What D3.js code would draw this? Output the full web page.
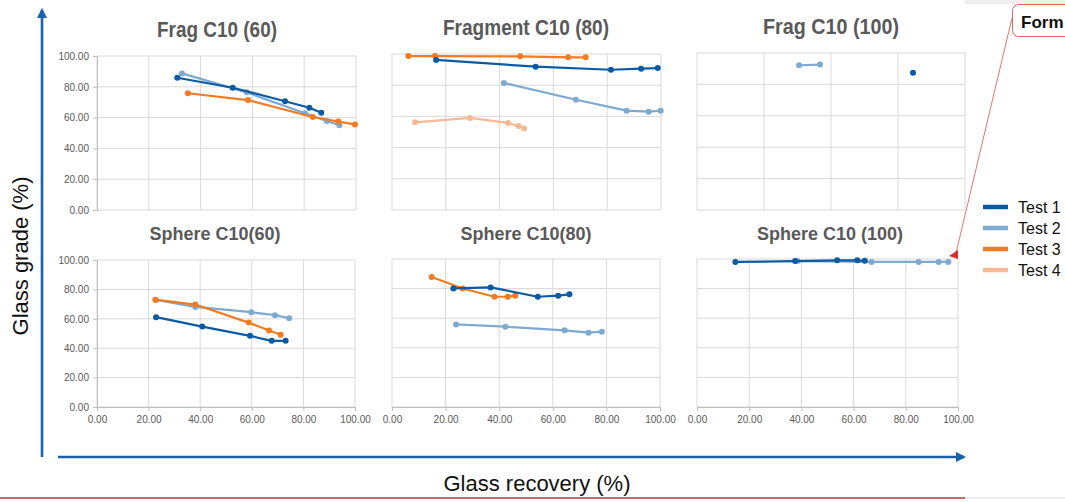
<!DOCTYPE html>
<html>
<head>
<meta charset="utf-8">
<script src="https://cdn.jsdelivr.net/npm/d3@7/dist/d3.min.js"></script>
<style>
  html, body { margin: 0; padding: 0; background: #ffffff; }
  svg { display: block; }
</style>
</head>
<body>
<svg id="chart" width="1065" height="502"></svg>
<script>
// ---------------- DATA ----------------
const panelTitles = ["Frag C10 (60)", "Fragment C10 (80)", "Frag C10 (100)",
                     "Sphere C10(60)", "Sphere C10(80)", "Sphere C10 (100)"];
const seriesNames = ["Test 1", "Test 2", "Test 3", "Test 4"];
const yTicks = [0, 20, 40, 60, 80, 100];
const xTicks = [0, 20, 40, 60, 80, 100];
const xTicksFrag100 = [0, 25, 50, 75, 100];
const yTickLabels = ["0.00", "20.00", "40.00", "60.00", "80.00", "100.00"];
const xTickLabels = ["0.00", "20.00", "40.00", "60.00", "80.00", "100.00"];
const axisTitleX = "Glass recovery (%)";
const axisTitleY = "Glass grade (%)";
const calloutText = "Form";

// [recovery, grade]
const frag60Test1 = [[31.0, 85.9], [52.4, 79.4], [72.6, 70.6], [82.0, 66.4], [86.6, 63.2]];
const frag60Test2 = [[32.8, 88.7], [57.8, 76.4], [80.3, 62.8], [88.7, 57.8], [93.6, 55.0]];
const frag60Test3 = [[35.1, 75.8], [58.3, 71.4], [83.3, 60.4], [93.2, 57.4], [99.6, 55.6]];

const frag80Test1 = [[16.4, 96.2], [53.4, 91.9], [81.4, 89.9], [92.6, 90.6], [98.8, 91.0]];
const frag80Test2 = [[41.6, 81.4], [68.4, 70.7], [87.2, 63.7], [95.4, 63.0], [99.9, 63.7]];
const frag80Test3 = [[6.1, 98.7], [16.0, 98.7], [47.7, 98.5], [65.5, 97.9], [72.0, 97.9]];
const frag80Test4 = [[8.6, 56.2], [28.9, 59.0], [43.1, 55.8], [47.0, 53.8], [49.1, 52.3]];

const frag100Test1 = [[80.6, 87.5]];
const frag100Test2 = [[38.1, 92.2], [45.9, 92.6]];

const sphere60Test1 = [[22.9, 61.1], [40.8, 54.7], [59.3, 48.4], [67.7, 45.0], [73.1, 45.0]];
const sphere60Test2 = [[22.9, 72.8], [38.1, 68.1], [59.8, 64.5], [69.0, 62.5], [74.5, 60.4]];
const sphere60Test3 = [[22.6, 73.0], [38.1, 69.7], [58.8, 57.4], [66.7, 52.0], [71.2, 49.1]];

const sphere80Test1 = [[22.9, 80.1], [36.8, 80.8], [54.4, 74.5], [62.0, 75.2], [66.2, 76.1]];
const sphere80Test2 = [[23.9, 55.8], [42.3, 54.3], [64.4, 51.8], [73.3, 50.2], [78.3, 50.9]];
const sphere80Test3 = [[14.8, 87.8], [26.4, 80.1], [38.2, 74.5], [43.2, 74.5], [46.0, 75.2]];

const sphere100Test1 = [[14.7, 98.0], [37.6, 98.6], [53.7, 99.1], [61.4, 99.1], [64.3, 98.8]];
const sphere100Test2 = [[38.5, 98.6], [66.9, 98.0], [84.9, 98.0], [92.6, 98.0], [96.3, 98.0]];

// ---------------- STYLE / LAYOUT ----------------
const colors = ["#0b5aa2", "#7eaad0", "#f07b22", "#f7b994"];
const gridColor = "#d9d9d9";
const tickTextColor = "#595959";

const panels = [
  { title: panelTitles[0], x0: 97, x1: 356, y0: 56, y1: 210, tx: 217, ty: 37, tw: 120, top: true,  yLabels: true,  xLabels: false, xt: xTicks,
    series: [frag60Test1, frag60Test2, frag60Test3, null] },
  { title: panelTitles[1], x0: 392, x1: 661, y0: 54, y1: 210, tx: 526, ty: 35, tw: 166, top: true, yLabels: false, xLabels: false, xt: xTicks,
    series: [frag80Test1, frag80Test2, frag80Test3, frag80Test4] },
  { title: panelTitles[2], x0: 697, x1: 965, y0: 53, y1: 210, tx: 831, ty: 34, tw: 136, top: true, yLabels: false, xLabels: false, xt: xTicksFrag100,
    series: [frag100Test1, frag100Test2, null, null] },
  { title: panelTitles[3], x0: 97, x1: 355, y0: 260, y1: 407, tx: 215, ty: 240, top: false, yLabels: true, xLabels: true, xt: xTicks,
    series: [sphere60Test1, sphere60Test2, sphere60Test3, null] },
  { title: panelTitles[4], x0: 392, x1: 660, y0: 259, y1: 407, tx: 526, ty: 240, top: false, yLabels: false, xLabels: true, xt: xTicks,
    series: [sphere80Test1, sphere80Test2, sphere80Test3, null] },
  { title: panelTitles[5], x0: 697, x1: 958, y0: 259, y1: 407, tx: 830, ty: 240, top: false, yLabels: false, xLabels: true, xt: xTicks,
    series: [sphere100Test1, sphere100Test2, null, null] }
];

const svg = d3.select("#chart");
svg.append("rect").attr("width", 1065).attr("height", 502).attr("fill", "#fff");

const drawOrder = [3, 1, 2, 0];

panels.forEach(p => {
  const g = svg.append("g");
  const x = d3.scaleLinear().domain([0, 100]).range([p.x0, p.x1]);
  const y = d3.scaleLinear().domain([0, 100]).range([p.y1, p.y0]);

  g.selectAll(".hg").data(yTicks).enter().append("line")
    .attr("x1", p.x0).attr("x2", p.x1)
    .attr("y1", d => y(d)).attr("y2", d => y(d))
    .attr("stroke", gridColor).attr("stroke-width", 1);
  g.selectAll(".vg").data(p.xt).enter().append("line")
    .attr("x1", d => x(d)).attr("x2", d => x(d))
    .attr("y1", p.y0).attr("y2", p.y1)
    .attr("stroke", gridColor).attr("stroke-width", 1);

  if (p.yLabels) {
    const ya = d3.axisLeft(y).tickValues(yTicks).tickSize(4).tickFormat((d, i) => yTickLabels[i]);
    const ag = g.append("g").attr("transform", `translate(${p.x0},0)`).call(ya);
    ag.select(".domain").attr("stroke", "#bfbfbf");
    ag.selectAll(".tick line").attr("stroke", "#bfbfbf");
    ag.selectAll("text").attr("fill", tickTextColor).attr("font-size", 10)
      .attr("font-family", "Liberation Sans, Arial, sans-serif").attr("dx", "-1");
  }
  if (p.xLabels) {
    const xa = d3.axisBottom(x).tickValues(xTicks).tickSize(4).tickFormat((d, i) => xTickLabels[i]);
    const ag = g.append("g").attr("transform", `translate(0,${p.y1})`).call(xa);
    ag.select(".domain").attr("stroke", "#bfbfbf");
    ag.selectAll(".tick line").attr("stroke", "#bfbfbf");
    ag.selectAll("text").attr("fill", tickTextColor).attr("font-size", 10)
      .attr("font-family", "Liberation Sans, Arial, sans-serif").attr("dy", "0.9em");
  }

  const line = d3.line().x(d => x(d[0])).y(d => y(d[1]));
  drawOrder.forEach(si => {
    const data = p.series[si];
    if (!data) return;
    if (data.length > 1) {
      g.append("path").datum(data).attr("d", line)
        .attr("fill", "none").attr("stroke", colors[si]).attr("stroke-width", 2.2)
        .attr("stroke-linejoin", "round");
    }
    g.selectAll(null).data(data).enter().append("circle")
      .attr("cx", d => x(d[0])).attr("cy", d => y(d[1])).attr("r", 3)
      .attr("fill", colors[si]);
  });

  if (p.top) {
    svg.append("text").attr("x", p.tx).attr("y", p.ty).attr("text-anchor", "middle")
      .attr("font-family", "Liberation Sans, Arial, sans-serif")
      .attr("font-weight", "bold").attr("font-size", 22).attr("fill", "#595959")
      .attr("textLength", p.tw).attr("lengthAdjust", "spacingAndGlyphs")
      .text(p.title);
  } else {
    svg.append("text").attr("x", p.tx).attr("y", p.ty).attr("text-anchor", "middle")
      .attr("font-family", "Liberation Sans, Arial, sans-serif")
      .attr("font-weight", "bold").attr("font-size", 18).attr("fill", "#595959")
      .text(p.title);
  }
});

// legend
const lg = svg.append("g");
seriesNames.forEach((s, i) => {
  const ly = 207 + i * 21;
  lg.append("line").attr("x1", 983).attr("x2", 1008).attr("y1", ly).attr("y2", ly)
    .attr("stroke", colors[i]).attr("stroke-width", 4.5);
  lg.append("text").attr("x", 1018).attr("y", ly + 6)
    .attr("font-family", "Liberation Sans, Arial, sans-serif").attr("font-size", 16)
    .attr("fill", "#111").text(s);
});

// big axis arrows
const arrowColor = "#1a61aa";
const defs = svg.append("defs");
defs.append("marker").attr("id", "ah").attr("viewBox", "0 0 10 10")
  .attr("refX", 8).attr("refY", 5).attr("markerWidth", 4).attr("markerHeight", 4)
  .attr("orient", "auto")
  .append("path").attr("d", "M0,0 L10,5 L0,10 z").attr("fill", arrowColor);
svg.append("line").attr("x1", 42).attr("y1", 457).attr("x2", 42).attr("y2", 10)
  .attr("stroke", arrowColor).attr("stroke-width", 2.6).attr("marker-end", "url(#ah)");
svg.append("line").attr("x1", 58).attr("y1", 457).attr("x2", 964).attr("y2", 457)
  .attr("stroke", arrowColor).attr("stroke-width", 2.6).attr("marker-end", "url(#ah)");

svg.append("text").attr("transform", "translate(28,256) rotate(-90)")
  .attr("text-anchor", "middle").attr("font-family", "Liberation Sans, Arial, sans-serif")
  .attr("font-size", 22).attr("fill", "#111").text(axisTitleY);
svg.append("text").attr("x", 537).attr("y", 491)
  .attr("text-anchor", "middle").attr("font-family", "Liberation Sans, Arial, sans-serif")
  .attr("font-size", 22).attr("fill", "#111").text(axisTitleX);

// bottom rule
svg.append("line").attr("x1", 0).attr("x2", 965).attr("y1", 498).attr("y2", 498)
  .attr("stroke", "#b03a3a").attr("stroke-width", 1.5);
svg.append("line").attr("x1", 965).attr("x2", 1065).attr("y1", 498).attr("y2", 498)
  .attr("stroke", "#e6e6e6").attr("stroke-width", 1.5);

// callout
svg.append("rect").attr("x", 965).attr("y", 0).attr("width", 100).attr("height", 4).attr("fill", "#eeeeee");
svg.append("line").attr("x1", 1012).attr("y1", 18).attr("x2", 956).attr("y2", 253)
  .attr("stroke", "#e57373").attr("stroke-width", 1);
svg.append("path").attr("d", "M949,256 L958,250 L958,259 Z").attr("fill", "#d32f2f");
svg.append("rect").attr("x", 1012.5).attr("y", 4.5).attr("width", 80).attr("height", 32).attr("rx", 6)
  .attr("fill", "#fff").attr("stroke", "#e06666").attr("stroke-width", 1);
svg.append("text").attr("x", 1021).attr("y", 28).attr("font-family", "Liberation Sans, Arial, sans-serif")
  .attr("font-weight", "bold").attr("font-size", 17).attr("fill", "#111").text(calloutText);
</script>
</body>
</html>
